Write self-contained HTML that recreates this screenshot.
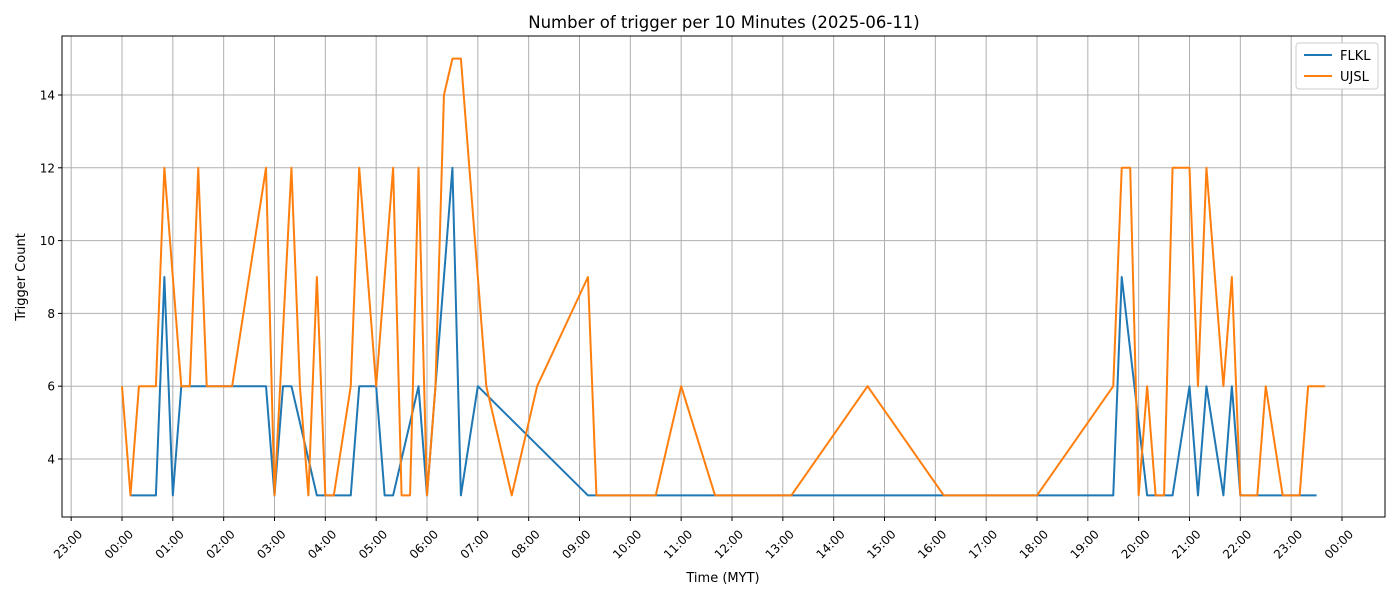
<!DOCTYPE html>
<html><head><meta charset="utf-8"><style>
body{margin:0;background:#fff;font-family:"Liberation Sans","DejaVu Sans",sans-serif}
svg text{font-family:"DejaVu Sans","Liberation Sans",sans-serif}
</style></head><body>
<svg id="chart" width="1400" height="600" xmlns="http://www.w3.org/2000/svg">
<rect width="1400" height="600" fill="#fff"/>
<text x="724" y="28" text-anchor="middle" font-size="16.5">Number of trigger per 10 Minutes (2025-06-11)</text>
<g id="grid"></g><g id="series"></g><g id="axes"></g>
<rect x="62" y="36" width="1323" height="481" fill="none" stroke="#000" stroke-width="1"/>
<text x="723" y="582" text-anchor="middle" font-size="13">Time (MYT)</text>
<text transform="translate(25,277) rotate(-90)" text-anchor="middle" font-size="13">Trigger Count</text>
<g>
<rect x="1296" y="43" width="82" height="46" rx="3" fill="#fff" stroke="#ccc"/>
<line x1="1304" y1="55" x2="1332" y2="55" stroke="#1f77b4" stroke-width="2"/>
<text x="1340" y="60" font-size="13">FLKL</text>
<line x1="1304" y1="76" x2="1332" y2="76" stroke="#ff7f0e" stroke-width="2"/>
<text x="1340" y="81" font-size="13">UJSL</text>
</g>
</svg>
<script>
const flklMinutes=[10,40,50,60,70,170,180,190,200,230,270,280,300,310,320,350,360,390,400,420,550,1170,1180,1210,1240,1260,1270,1280,1300,1310,1320,1410];
const flklValues=[3,3,9,3,6,6,3,6,6,3,3,6,6,3,3,6,3,12,3,6,3,3,9,3,3,6,3,6,3,6,3,3];
const ujslMinutes=[0,10,20,40,50,70,80,90,100,130,170,180,200,210,220,230,240,250,270,280,300,320,330,340,350,360,370,380,390,400,430,460,490,550,560,630,660,700,790,880,970,1080,1170,1180,1190,1200,1210,1220,1230,1240,1260,1270,1280,1300,1310,1320,1340,1350,1370,1390,1400,1420];
const ujslValues=[6,3,6,6,12,6,6,12,6,6,12,3,12,6,3,9,3,3,6,12,6,12,3,3,12,3,6,14,15,15,6,3,6,9,3,3,6,3,3,6,3,3,6,12,12,3,6,3,3,12,12,6,12,6,9,3,3,6,3,3,6,6];
const yTicks=[4,6,8,10,12,14];
const xTickHours=[-1,0,1,2,3,4,5,6,7,8,9,10,11,12,13,14,15,16,17,18,19,20,21,22,23,24];
const NS="http://www.w3.org/2000/svg";
const xs=m=>122+m*(1220/1440);
const ys=v=>495.4-(v-3)*36.4;
function mk(tag,attrs,parent){const e=document.createElementNS(NS,tag);for(const k in attrs)e.setAttribute(k,attrs[k]);parent.appendChild(e);return e;}
const grid=document.getElementById('grid'),axes=document.getElementById('axes'),series=document.getElementById('series');
yTicks.forEach(v=>{const y=ys(v);
 const g=mk('line',{x1:62,x2:1385,y1:y,y2:y,stroke:'#b0b0b0','stroke-width':1},grid);
 
 
 mk('line',{x1:58,x2:62,y1:y,y2:y,stroke:'#000'},axes);
 const t=mk('text',{x:55,y:y+4.5,'text-anchor':'end','font-size':12},axes);t.textContent=v;
 
 
});
xTickHours.forEach(h=>{const x=xs(h*60);
 const g=mk('line',{x1:x,x2:x,y1:36,y2:517,stroke:'#b0b0b0','stroke-width':1},grid);
 
 
 mk('line',{x1:x,x2:x,y1:517,y2:521,stroke:'#000'},axes);
 const hh=((h%24)+24)%24;const lbl=(hh<10?'0':'')+hh+':00';
 const t=mk('text',{x:0,y:0,'text-anchor':'end','font-size':12,transform:`translate(${x+12},${535}) rotate(-45)`},axes);t.textContent=lbl;
 
 
});
function line(ms,vs,color,name){
 const p=mk('polyline',{points:ms.map((m,i)=>xs(m)+','+ys(vs[i])).join(' '),fill:'none',stroke:color,'stroke-width':2,'stroke-linejoin':'round'},series);
 
 
}
line(flklMinutes,flklValues,'#1f77b4','flkl-line');
line(ujslMinutes,ujslValues,'#ff7f0e','ujsl-line');
</script>
</body></html>
